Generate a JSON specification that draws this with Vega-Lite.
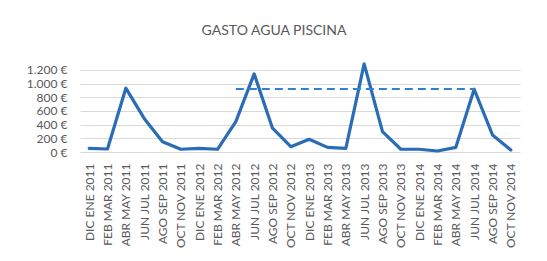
{
  "$schema": "https://vega.github.io/schema/vega-lite/v6.json",
  "width": 440,
  "height": 89,
  "autosize": {"type": "none"},
  "padding": {"left": 80, "top": 63, "right": 27, "bottom": 109},
  "background": "white",
  "title": {"text": "GASTO AGUA PISCINA", "font": "Lato", "fontSize": 14, "fontWeight": "normal", "color": "#595959", "anchor": "middle", "dx": -26, "offset": 24},
  "config": {"view": {"stroke": null}},
  "datasets": {
    "gasto": [
      {"periodo": "DIC ENE 2011", "gasto": 54},
      {"periodo": "FEB MAR 2011", "gasto": 44},
      {"periodo": "ABR MAY 2011", "gasto": 932},
      {"periodo": "JUN JUL 2011", "gasto": 490},
      {"periodo": "AGO SEP 2011", "gasto": 150},
      {"periodo": "OCT NOV 2011", "gasto": 40},
      {"periodo": "DIC ENE 2012", "gasto": 54},
      {"periodo": "FEB MAR 2012", "gasto": 40},
      {"periodo": "ABR MAY 2012", "gasto": 443},
      {"periodo": "JUN JUL 2012", "gasto": 1141},
      {"periodo": "AGO SEP 2012", "gasto": 347},
      {"periodo": "OCT NOV 2012", "gasto": 78},
      {"periodo": "DIC ENE 2013", "gasto": 186},
      {"periodo": "FEB MAR 2013", "gasto": 68},
      {"periodo": "ABR MAY 2013", "gasto": 54},
      {"periodo": "JUN JUL 2013", "gasto": 1288},
      {"periodo": "AGO SEP 2013", "gasto": 297},
      {"periodo": "OCT NOV 2013", "gasto": 40},
      {"periodo": "DIC ENE 2014", "gasto": 40},
      {"periodo": "FEB MAR 2014", "gasto": 15},
      {"periodo": "ABR MAY 2014", "gasto": 68},
      {"periodo": "JUN JUL 2014", "gasto": 917},
      {"periodo": "AGO SEP 2014", "gasto": 249},
      {"periodo": "OCT NOV 2014", "gasto": 30}
    ],
    "media": [
      {"periodo": "ABR MAY 2012", "gasto": 922},
      {"periodo": "JUN JUL 2014", "gasto": 922}
    ]
  },
  "encoding": {
    "x": {
      "field": "periodo", "type": "ordinal", "sort": null,
      "scale": {"type": "point", "padding": 0.5},
      "axis": {"title": null, "labelAngle": -90, "labelFont": "Lato", "labelFontSize": 12, "labelColor": "#595959", "labelPadding": 11, "labelOverlap": false, "ticks": false, "domain": false, "grid": false}
    },
    "y": {
      "field": "gasto", "type": "quantitative",
      "scale": {"domain": [0, 1300], "nice": false},
      "axis": {"title": null, "values": [0, 200, 400, 600, 800, 1000, 1200], "labelExpr": "replace(format(datum.value, ',d'), ',', '.') + ' €'", "labelFont": "Lato", "labelFontSize": 12, "labelColor": "#595959", "labelPadding": 13, "labelOverlap": false, "labelBound": false, "ticks": false, "domain": false, "grid": true, "gridColor": "#d9d9d9", "gridWidth": 1}
    }
  },
  "layer": [
    {
      "data": {"name": "gasto"},
      "mark": {"type": "line", "color": "#2a6cb5", "strokeWidth": 3.2, "strokeJoin": "round", "strokeCap": "round"}
    },
    {
      "data": {"name": "media"},
      "mark": {"type": "line", "color": "#2f7fd2", "strokeWidth": 2, "strokeDash": [8, 5]}
    }
  ]
}
